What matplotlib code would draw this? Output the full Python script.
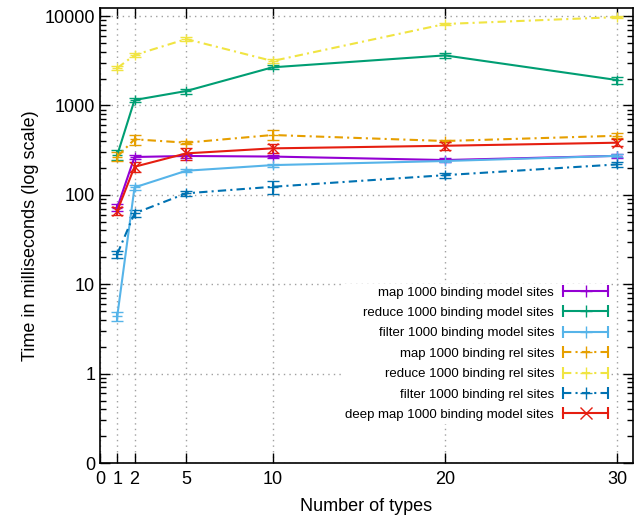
import numpy as np
from matplotlib import pyplot as plt
from matplotlib.lines import Line2D
from matplotlib.legend_handler import HandlerBase

plt.rcParams['font.family'] = ['Liberation Sans', 'DejaVu Sans']

# number of types on the x axis
types = [1, 2, 5, 10, 20, 30]

# times in ms
map_model = [72, 265, 272, 268, 245, 273]
map_model_err = [6, 12, 12, 12, 10, 12]
reduce_model = [279, 1150, 1450, 2670, 3630, 1920]
reduce_model_err = [35, 50, 90, 140, 200, 170]
filter_model = [4.4, 121, 186, 215, 239, 273]
filter_model_err = [0.5, 8, 8, 8, 8, 10]
map_rel = [268, 418, 383, 467, 400, 458]
map_rel_err = [30, 55, 15, 60, 15, 30]
reduce_rel = [2620, 3660, 5530, 3140, 8150, 9740]
reduce_rel_err = [150, 200, 300, 150, 300, 300]
filter_rel = [21.8, 62, 104, 123, 166, 219]
filter_rel_err = [2, 5, 6, 20, 10, 12]
deep_map = [66, 206, 291, 331, 354, 383]
deep_map_err = [7, 25, 45, 40, 40, 35]

labels = ['map 1000 binding model sites',
          'reduce 1000 binding model sites',
          'filter 1000 binding model sites',
          'map 1000 binding rel sites',
          'reduce 1000 binding rel sites',
          'filter 1000 binding rel sites',
          'deep map 1000 binding model sites']

xticks = [0, 1, 2, 5, 10, 20, 30]
yticks = [0.1, 1, 10, 100, 1000, 10000]
yticklabels = ['0', '1', '10', '100', '1000', '10000']

dashdot = (0, (4, 2, 1, 2))
series = [
    (map_model, map_model_err, '#9400d3', '-', '+'),
    (reduce_model, reduce_model_err, '#009e73', '-', '+'),
    (filter_model, filter_model_err, '#56b4e9', '-', '+'),
    (map_rel, map_rel_err, '#e69f00', dashdot, '+'),
    (reduce_rel, reduce_rel_err, '#f0e442', dashdot, '+'),
    (filter_rel, filter_rel_err, '#0072b2', dashdot, '+'),
    (deep_map, deep_map_err, '#e51e10', '-', 'x'),
]


class Key:
    def __init__(self, color, ls, marker):
        self.color = color
        self.ls = ls
        self.marker = marker


class KeyHandler(HandlerBase):
    # gnuplot style key: line with end caps and marker in the middle
    def create_artists(self, legend, h, xdescent, ydescent, width, height, fontsize, trans):
        y = height / 2 - ydescent
        x0, x1 = -xdescent, width - xdescent
        line = Line2D([x0, x1], [y, y], color=h.color, ls=h.ls, lw=1.5)
        caps = Line2D([x0, x1], [y, y], color=h.color, ls='none', marker='|', ms=8, mew=1.5)
        mid = Line2D([(x0 + x1) / 2], [y], color=h.color, ls='none', marker=h.marker, ms=8, mew=1)
        for a in (line, caps, mid):
            a.set_transform(trans)
        return [line, caps, mid]


fig = plt.figure(figsize=(6.42, 5.2), dpi=100)
ax = fig.add_axes([0.1558, 0.1096, 0.8302, 0.875])

keys = []
for (vals, err, col, ls, mk), lab in zip(series, labels):
    ax.errorbar(types, vals, yerr=err, color=col, ls=ls, lw=1.5, marker=mk, ms=7, mew=1,
                capsize=4, elinewidth=1.5, capthick=1.5)
    keys.append(Key(col, ls, mk))

ax.set_yscale('log')
ax.set_xlim(0, 30.9)
ax.set_ylim(0.1, 12300)
ax.set_xticks(xticks)
ax.set_xticklabels([str(t) for t in xticks])
ax.set_yticks(yticks)
ax.set_yticklabels(yticklabels)
ax.yaxis.set_minor_locator(plt.matplotlib.ticker.LogLocator(base=10, subs=np.arange(2, 10)))
ax.yaxis.set_minor_formatter(plt.NullFormatter())
ax.tick_params(which='both', direction='in', top=True, right=True, labelsize=13, width=1)
ax.tick_params(which='major', length=7)
ax.tick_params(which='minor', length=4)
ax.tick_params(axis='x', which='minor', top=False, bottom=False)
ax.tick_params(axis='x', which='major', pad=6)
for s in ax.spines.values():
    s.set_linewidth(1.2)

ax.grid(True, which='major', color='#a0a0a0', ls=(0, (1, 3)), lw=1)
ax.set_axisbelow(True)

ax.set_xlabel('Number of types', fontsize=13, labelpad=7)
ax.set_ylabel('Time in milliseconds (log scale)', fontsize=13)

leg = ax.legend(keys, labels, handler_map={Key: KeyHandler()}, loc='lower right',
                bbox_to_anchor=(0.971, 0.072), markerfirst=False, frameon=True,
                fontsize=9.5, handlelength=3.4, handletextpad=0.7, labelspacing=0.62,
                borderpad=0.2, fancybox=False)
leg.get_frame().set_edgecolor('none')
leg.get_frame().set_facecolor('white')
leg.get_frame().set_alpha(1)

fig.savefig('out.png', dpi=100)
